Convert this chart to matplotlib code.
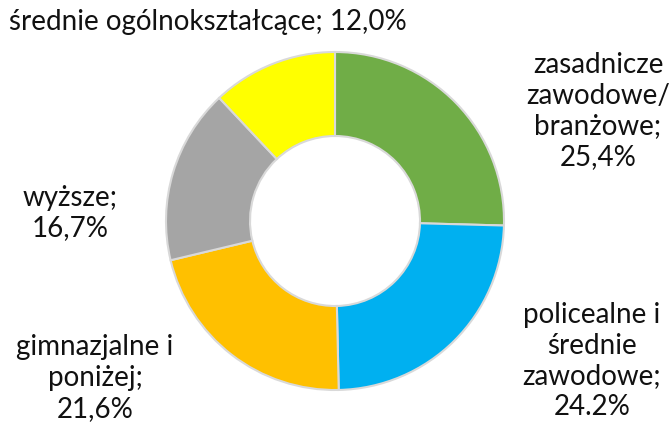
import matplotlib.pyplot as plt

# Dane: wykształcenie
kategorie = ["zasadnicze\nzawodowe/\nbranżowe", "policealne i\nśrednie\nzawodowe",
             "gimnazjalne i\nponiżej", "wyższe", "średnie ogólnokształcące"]
udzialy = [25.4, 24.2, 21.6, 16.7, 12.0]
etykiety = ["25,4%", "24.2%", "21,6%", "16,7%", "12,0%"]
kolory = ["#70AD47", "#00B0F0", "#FFC000", "#A5A5A5", "#FFFF00"]

plt.rcParams['font.family'] = ['Lato', 'DejaVu Sans']

fig = plt.figure(figsize=(6.69, 4.23), dpi=100)
ax = fig.add_axes([0, 0, 1, 1])

H = 423
ax.pie(udzialy, colors=kolory, startangle=90, counterclock=False,
       center=(335, H - 221), radius=169,
       wedgeprops=dict(width=84, edgecolor="#d9d9d9", linewidth=1.5))

# pie() ustawia własne granice, więc nadpisujemy je później
ax.set_xlim(0, 669)
ax.set_ylim(0, 423)
ax.set_aspect('equal')
ax.axis('off')

# Pozycje podpisów (piksele)
pozycje = [(598, 111, "\n"), (592, 361, "\n"), (95, 378, "\n"), (70, 213, "\n"), (208, 22, " ")]
for kat, et, (x, y, sep) in zip(kategorie, etykiety, pozycje):
    ax.text(x, H - y, kat + ";" + sep + et, ha="center", va="center",
            fontsize=20, color="#111111", linespacing=1.22)

fig.savefig("out.png", dpi=100)
